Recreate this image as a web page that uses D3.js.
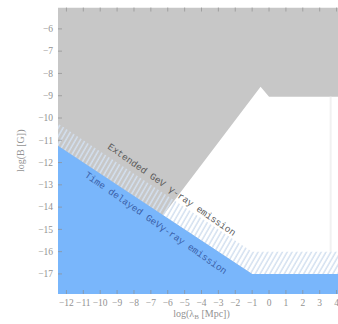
<!DOCTYPE html>
<html>
<head>
<meta charset="utf-8">
<script src="https://cdn.jsdelivr.net/npm/d3@7"></script>
<style>
  body { margin: 0; background: #fff; }
  svg { display: block; }
</style>
</head>
<body>
<div id="chart"></div>
<script>
// axis ticks
const xTicks = [-12, -11, -10, -9, -8, -7, -6, -5, -4, -3, -2, -1, 0, 1, 2, 3, 4];
const yTicks = [-6, -7, -8, -9, -10, -11, -12, -13, -14, -15, -16, -17];

// region boundaries, [log lambda, log B]
const blueEdge = [[-12.5, -11.25], [-1, -17], [4.5, -17]];
const hatchEdge = [[-12.5, -10.25], [-1, -16], [4.5, -16]];
const whiteEdge = [[-6.27, -14.37], [-0.5, -8.6], [0, -9.05], [4.5, -9.05]];
const stripeX = 3.65;

const width = 338, height = 324;
const pLeft = 58, pRight = 345, pTop = 7.5, pBottom = 294;

const x = d3.scaleLinear().domain([-12.5, 4.5]).range([pLeft, pRight]);
const y = d3.scaleLinear().domain([-17.9, -5.04]).range([pBottom, pTop]);

const svg = d3.select("#chart").append("svg")
  .attr("width", width)
  .attr("height", height);

const defs = svg.append("defs");
defs.append("clipPath").attr("id", "plot-clip")
  .append("rect")
  .attr("x", pLeft).attr("y", pTop)
  .attr("width", pRight - pLeft).attr("height", pBottom - pTop);

const hatch = defs.append("pattern")
  .attr("id", "hatch")
  .attr("patternUnits", "userSpaceOnUse")
  .attr("width", 4.2).attr("height", 4.2)
  .attr("patternTransform", "rotate(30)");
hatch.append("line")
  .attr("x1", 1).attr("y1", 0).attr("x2", 1).attr("y2", 4.2)
  .attr("stroke", "#d3e0f0")
  .attr("stroke-width", 1.5);

const line = d3.line().x(d => x(d[0])).y(d => y(d[1]));
const area = pts => line(pts) + "Z";

const g = svg.append("g").attr("clip-path", "url(#plot-clip)");

// gray excluded region
g.append("rect")
  .attr("x", pLeft).attr("y", pTop)
  .attr("width", pRight - pLeft).attr("height", pBottom - pTop)
  .attr("fill", "#c7c7c7");

// white allowed region
const whitePoly = whiteEdge.concat([[4.5, -17], [-1, -17]]);
g.append("path").attr("d", area(whitePoly)).attr("fill", "#fff");

g.append("line")
  .attr("x1", x(stripeX)).attr("x2", x(stripeX))
  .attr("y1", y(-9.05)).attr("y2", y(-16))
  .attr("stroke", "#f1f1f1").attr("stroke-width", 2);

// hatched band: extended emission
const hatchPoly = hatchEdge.concat(blueEdge.slice().reverse());
g.append("path").attr("d", area(hatchPoly)).attr("fill", "url(#hatch)");

// blue band: time delayed emission
const bluePoly = blueEdge.concat([[4.5, -17.9], [-12.5, -17.9]]);
g.append("path").attr("d", area(bluePoly)).attr("fill", "#79b6fb");

// ticks, inside on all sides
const tickCol = "#8f8f8f";
const ticks = svg.append("g").attr("stroke", tickCol).attr("stroke-width", 0.7);
xTicks.forEach(t => {
  ticks.append("line").attr("x1", x(t)).attr("x2", x(t)).attr("y1", pBottom).attr("y2", pBottom - 4);
  ticks.append("line").attr("x1", x(t)).attr("x2", x(t)).attr("y1", pTop).attr("y2", pTop + 4);
});
yTicks.forEach(t => {
  ticks.append("line").attr("x1", pLeft).attr("x2", pLeft + 4).attr("y1", y(t)).attr("y2", y(t));
  ticks.append("line").attr("x1", pRight).attr("x2", pRight - 4).attr("y1", y(t)).attr("y2", y(t));
});

const fmt = v => (v < 0 ? "\u2212" : "") + Math.abs(v);
const labelFont = "'Liberation Serif', 'DejaVu Serif', serif";

svg.append("g").selectAll("text").data(xTicks).join("text")
  .attr("x", d => x(d)).attr("y", pBottom + 12)
  .attr("text-anchor", "middle")
  .attr("font-family", labelFont).attr("font-size", 9.5)
  .attr("fill", "#929292")
  .text(fmt);

svg.append("g").selectAll("text").data(yTicks).join("text")
  .attr("x", pLeft - 5).attr("y", d => y(d) + 3.3)
  .attr("text-anchor", "end")
  .attr("font-family", labelFont).attr("font-size", 9.5)
  .attr("fill", "#929292")
  .text(fmt);

// axis titles
const xTitle = svg.append("text")
  .attr("x", (pLeft + pRight) / 2).attr("y", 317)
  .attr("text-anchor", "middle")
  .attr("font-family", labelFont).attr("font-size", 10)
  .attr("fill", "#929292");
xTitle.append("tspan").text("log(\u03bb");
xTitle.append("tspan").attr("font-size", 7).attr("dy", 2).text("B");
xTitle.append("tspan").attr("dy", -2).text(" [Mpc])");

svg.append("text")
  .attr("transform", `translate(24, ${(pTop + pBottom) / 2}) rotate(-90)`)
  .attr("text-anchor", "middle")
  .attr("font-family", labelFont).attr("font-size", 10)
  .attr("fill", "#929292")
  .text("log(B [G])");

// band labels
const angle = 35;
const annFont = "'Liberation Mono', 'DejaVu Sans Mono', monospace";

svg.append("text")
  .attr("transform", `translate(${x(-9.6)}, ${y(-11.35)}) rotate(${angle})`)
  .attr("font-family", annFont).attr("font-size", 9.5)
  .attr("fill", "#5a5a5a")
  .text("Extended GeV \u03b3-ray emission");

svg.append("text")
  .attr("transform", `translate(${x(-10.95)}, ${y(-12.62)}) rotate(${angle})`)
  .attr("font-family", annFont).attr("font-size", 9.5)
  .attr("fill", "#3a5fa8")
  .text("Time delayed GeV\u03b3-ray emission");
</script>
</body>
</html>
